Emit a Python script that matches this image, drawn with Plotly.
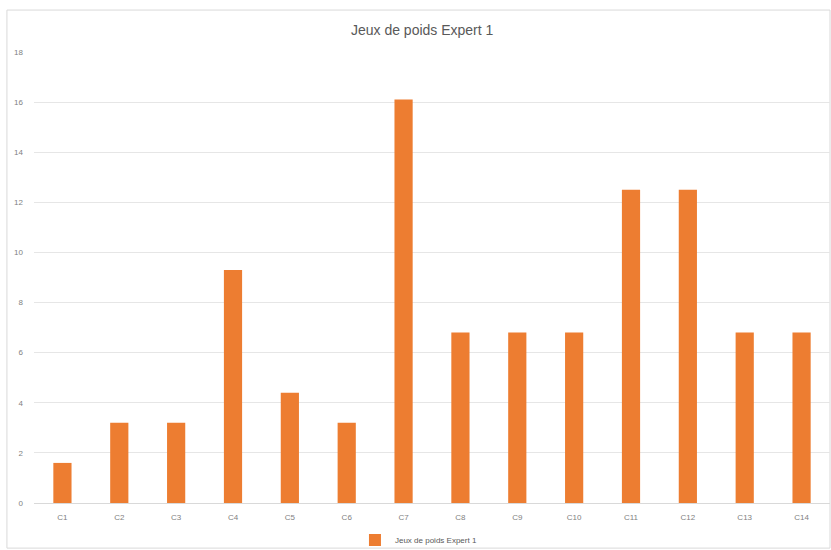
import plotly.graph_objects as go

categories = ["C1", "C2", "C3", "C4", "C5", "C6", "C7", "C8", "C9", "C10", "C11", "C12", "C13", "C14"]
values = [1.6, 3.2, 3.2, 9.3, 4.4, 3.2, 16.1, 6.8, 6.8, 6.8, 12.5, 12.5, 6.8, 6.8]
series_name = "Jeux de poids Expert 1"
y_ticks = [0, 2, 4, 6, 8, 10, 12, 14, 16, 18]

fig = go.Figure()
fig.add_trace(go.Bar(x=categories, y=values, name=series_name,
                     marker=dict(color="#ED7D31", line=dict(width=0))))

fig.update_layout(
    width=831, height=550,
    margin=dict(l=34, r=1, t=52, b=47, autoexpand=False),
    paper_bgcolor="white", plot_bgcolor="white",
    bargap=0.68,
    title=dict(text=series_name, x=0.508, xanchor="center", y=0.945, yanchor="middle",
               font=dict(family="Liberation Sans, Arial", size=14, color="#595959")),
    showlegend=True,
    legend=dict(orientation="h", x=0.483, xanchor="center", y=-0.082, yanchor="middle",
                bgcolor="rgba(0,0,0,0)",
                font=dict(family="Liberation Sans, Arial", size=8, color="#595959"),
                itemwidth=30),
    xaxis=dict(showgrid=False, showline=True, linecolor="#D9D9D9", linewidth=1,
               tickfont=dict(family="Liberation Sans, Arial", size=8, color="#7F7F7F"),
               ticks="", ticklabelstandoff=6),
    yaxis=dict(range=[0, 18], tickvals=y_ticks, showgrid=True, gridcolor="#E6E6E6",
               gridwidth=1, zeroline=False, showline=False,
               tickfont=dict(family="Liberation Sans, Arial", size=8, color="#7F7F7F"),
               ticks="", ticklabelstandoff=10),
    shapes=[dict(type="rect", xref="paper", yref="paper",
                 x0=-0.034, x1=1.0, y0=-0.1, y1=1.093,
                 line=dict(color="#D9D9D9", width=1), fillcolor="rgba(0,0,0,0)",
                 layer="below")],
)

fig.write_html("out.html")
